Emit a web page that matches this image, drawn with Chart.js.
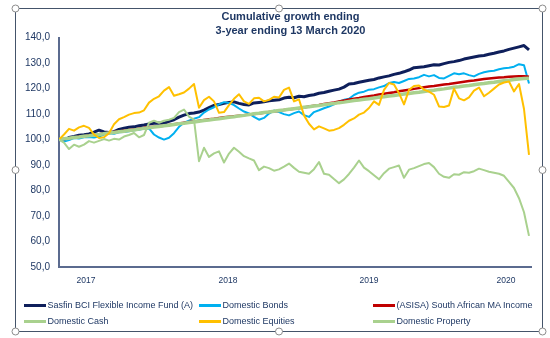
<!DOCTYPE html>
<html><head><meta charset="utf-8">
<script src="https://cdn.jsdelivr.net/npm/chart.js@4.4.1/dist/chart.umd.min.js"></script>
<style>
html,body{margin:0;padding:0;background:#fff;}
#wrap{position:relative;width:550px;height:338px;}
#legend{position:absolute;left:0;top:0;width:550px;height:338px;pointer-events:none;font-family:"Liberation Sans",Arial,sans-serif;font-size:9px;color:#1f3864;}
.li{position:absolute;height:12px;line-height:12px;white-space:nowrap;}
.li .sw{position:absolute;left:0;top:5px;width:22px;height:3px;}
.li .tx{position:absolute;left:24px;top:0;}
</style></head><body>
<div id="wrap"><canvas id="c" width="550" height="338"></canvas><div id="legend"></div></div>
<script>
// ---- data (one point every ~5 px of the x axis) ----
const seriesNames = ['Sasfin BCI Flexible Income Fund (A)', 'Domestic Bonds', '(ASISA) South African MA Income', 'Domestic Cash', 'Domestic Equities', 'Domestic Property'];
const xTickLabels = ['2017', '2018', '2019', '2020'];
const xTickAt = [5.4, 33.8, 62, 89.4];

const fund = [
100.0, 99.8, 100.8, 101.2, 101.7, 101.9, 102.2, 102.9, 103.7, 103.0,
102.8, 103.1, 104.0, 104.5, 104.8, 105.0, 105.4, 105.7, 106.1, 106.4,
106.5, 106.4, 107.2, 107.8, 108.8, 109.6, 110.2, 110.4, 110.8, 111.6,
112.5, 113.4, 113.8, 114.2, 114.6, 114.8, 114.2, 113.8, 113.6, 114.4,
114.6, 114.8, 115.2, 115.4, 115.6, 116.3, 116.6, 116.4, 117.0, 116.8,
117.3, 117.6, 118.2, 118.5, 119.0, 119.4, 119.8, 120.6, 121.8, 122.0,
122.5, 122.9, 123.3, 123.6, 124.2, 124.6, 125.0, 125.6, 126.0, 126.6,
127.3, 128.2, 128.4, 128.6, 129.0, 129.4, 129.3, 129.8, 130.3, 130.6,
131.0, 131.6, 132.0, 132.4, 132.8, 133.0, 133.5, 133.9, 134.4, 134.8,
135.4, 135.9, 136.4, 136.9, 135.2];

const bonds = [
100.5, 99.2, 99.8, 100.6, 100.4, 100.9, 101.0, 100.8, 101.2, 102.0,
102.5, 102.3, 102.9, 103.0, 103.3, 103.7, 103.9, 104.3, 104.4, 102.0,
100.8, 100.0, 100.7, 102.5, 105.0, 106.6, 107.4, 108.2, 108.8, 110.6,
111.8, 112.7, 113.8, 114.7, 114.4, 113.5, 112.2, 111.0, 110.3, 108.9,
107.8, 108.5, 110.2, 111.4, 110.8, 110.0, 109.5, 110.4, 111.0, 109.6,
108.9, 110.8, 111.5, 112.3, 113.0, 113.8, 115.0, 115.6, 116.0, 117.5,
118.4, 118.8, 119.6, 119.8, 120.5, 121.0, 122.2, 122.6, 122.2, 123.0,
123.8, 124.0, 124.5, 125.4, 124.8, 125.3, 124.2, 124.0, 125.0, 126.0,
125.6, 126.0, 125.3, 124.8, 125.8, 126.4, 126.8, 127.0, 127.6, 128.0,
128.2, 128.6, 129.6, 129.2, 122.0];

const asisa = [
100.0, 100.3, 100.5, 100.8, 101.1, 101.3, 101.6, 101.9, 102.1, 102.4,
102.7, 103.0, 103.2, 103.5, 103.8, 104.0, 104.3, 104.6, 104.8, 105.0,
105.2, 105.4, 105.7, 106.0, 106.3, 106.6, 106.9, 107.1, 107.4, 107.7,
108.0, 108.2, 108.5, 108.8, 109.0, 109.2, 109.4, 109.6, 109.8, 110.0,
110.2, 110.5, 110.8, 111.0, 111.3, 111.6, 111.8, 112.1, 112.3, 112.6,
113.0, 113.3, 113.6, 114.0, 114.3, 114.6, 115.0, 115.3, 115.7, 116.0,
116.3, 116.7, 117.0, 117.3, 117.7, 118.0, 118.3, 118.6, 119.0, 119.3,
119.6, 119.9, 120.2, 120.5, 120.8, 121.0, 121.3, 121.6, 121.8, 122.1,
122.4, 122.7, 123.0, 123.2, 123.5, 123.8, 124.0, 124.2, 124.4, 124.5,
124.7, 124.8, 124.9, 124.9, 124.7];

const cash = [
100.0, 100.3, 100.5, 100.8, 101.0, 101.3, 101.5, 101.8, 102.0, 102.3,
102.6, 102.8, 103.1, 103.3, 103.6, 103.8, 104.1, 104.4, 104.6, 104.9,
105.1, 105.4, 105.6, 105.9, 106.2, 106.4, 106.7, 106.9, 107.2, 107.5,
107.7, 108.0, 108.2, 108.5, 108.8, 109.0, 109.3, 109.5, 109.8, 110.1,
110.3, 110.6, 110.8, 111.1, 111.4, 111.6, 111.9, 112.1, 112.4, 112.7,
112.9, 113.2, 113.4, 113.7, 114.0, 114.2, 114.5, 114.7, 115.0, 115.3,
115.5, 115.8, 116.0, 116.3, 116.6, 116.8, 117.1, 117.3, 117.6, 117.9,
118.1, 118.4, 118.6, 118.9, 119.2, 119.4, 119.7, 119.9, 120.2, 120.5,
120.7, 121.0, 121.2, 121.5, 121.8, 122.0, 122.3, 122.5, 122.8, 123.1,
123.3, 123.6, 123.8, 124.0, 124.1];

const equities = [
100.0, 102.0, 104.2, 103.5, 104.8, 105.4, 104.6, 102.0, 100.6, 100.9,
102.5, 106.0, 108.0, 108.8, 109.8, 110.4, 110.6, 111.5, 114.5, 116.0,
117.0, 119.2, 120.6, 117.2, 117.8, 118.5, 120.0, 121.8, 112.5, 115.5,
116.8, 115.0, 110.5, 110.8, 113.5, 116.0, 117.8, 115.0, 114.0, 116.2,
116.4, 115.0, 115.6, 116.8, 116.5, 119.5, 120.4, 115.0, 115.8, 109.5,
106.2, 104.0, 105.2, 104.4, 103.5, 103.8, 104.5, 105.8, 107.4, 108.3,
109.8, 110.6, 112.4, 115.0, 113.6, 119.5, 122.2, 121.6, 118.2, 113.8,
119.5, 121.0, 121.2, 119.6, 118.8, 117.6, 113.0, 112.8, 113.4, 120.0,
116.2, 115.4, 116.6, 119.2, 120.4, 117.0, 118.4, 120.0, 121.6, 122.4,
122.8, 118.9, 121.8, 112.0, 94.0];

const property = [
100.0, 98.8, 96.3, 98.0, 97.2, 98.0, 99.4, 98.8, 99.5, 100.2,
99.6, 100.3, 100.0, 101.2, 101.8, 102.6, 100.9, 101.8, 106.6, 107.4,
106.6, 107.4, 107.8, 108.5, 110.8, 111.8, 109.0, 107.8, 91.5, 96.8,
93.2, 94.6, 95.4, 91.0, 94.5, 96.8, 95.2, 93.5, 92.6, 91.8,
88.0, 89.4, 88.8, 87.8, 88.3, 89.4, 90.6, 88.9, 87.4, 87.0,
86.6, 88.4, 91.2, 86.6, 86.2, 84.5, 82.9, 84.4, 86.5, 89.0,
91.8, 89.0, 87.6, 86.0, 84.4, 86.8, 88.6, 89.2, 89.8, 85.0,
88.2, 88.8, 89.6, 90.4, 90.8, 89.2, 86.6, 85.4, 85.0, 86.4,
86.2, 87.2, 87.0, 87.6, 88.6, 88.0, 87.4, 87.0, 86.6, 85.8,
83.4, 81.0, 77.0, 71.5, 62.2];

// ---- styling ----
const seriesValues = [fund, bonds, asisa, cash, equities, property];
const seriesColors = ['#0e1f5b', '#00b0f0', '#c00000', '#a9d18e', '#ffc000', '#a9d18e'];
const seriesWidths = [3, 2, 2.5, 3.5, 2, 2];
const seriesOrder = [5, 4, 3, 2, 1, 0];
const textColor = '#1f3864';
const axisColor = '#5b6b8f';
const fontFamily = '"Liberation Sans", Arial, sans-serif';

const framePlugin = {
  id: 'frame',
  afterLayout(chart) {
    // centre the title over the same span as in the reference
    const tb = chart.titleBlock;
    if (tb) { tb.left = 50; tb.right = 531; tb.width = 481; }
  },
  afterDraw(chart) {
    const c = chart.ctx;
    c.save();
    c.strokeStyle = '#44546a';
    c.lineWidth = 1;
    c.strokeRect(15.5, 8.5, 527, 323);
    const pts = [[15.5, 8.5], [279, 8.5], [542.5, 8.5], [15.5, 170], [542.5, 170], [15.5, 331.5], [279, 331.5], [542.5, 331.5]];
    pts.forEach(([x, y]) => {
      c.beginPath(); c.arc(x, y, 3.5, 0, Math.PI * 2);
      c.fillStyle = '#ffffff'; c.fill();
      c.strokeStyle = '#8c8c8c'; c.stroke();
    });
    c.restore();
  }
};

new Chart(document.getElementById('c'), {
  type: 'line',
  data: {
    datasets: seriesNames.map((name, k) => ({
      label: name,
      data: seriesValues[k].map((v, i) => ({ x: i, y: v })),
      borderColor: seriesColors[k],
      backgroundColor: seriesColors[k],
      borderWidth: seriesWidths[k],
      pointRadius: 0,
      tension: 0,
      fill: false,
      order: seriesOrder[k],
      borderJoinStyle: 'round'
    }))
  },
  options: {
    responsive: false,
    animation: false,
    layout: { padding: { left: 18, right: 19, top: 0, bottom: 0 } },
    plugins: {
      legend: { display: false },
      tooltip: { enabled: false },
      title: {
        display: true,
        text: ['Cumulative growth ending', '3-year ending 13 March 2020'],
        color: textColor,
        font: { family: fontFamily, size: 11, weight: 'bold', lineHeight: 1.28 },
        padding: { top: 9.5, bottom: 0 }
      }
    },
    scales: {
      x: {
        type: 'linear', min: 0, max: 94.4,
        grid: { display: false, drawTicks: false },
        border: { display: true, color: axisColor, width: 2 },
        afterBuildTicks: s => { s.ticks = xTickAt.map(v => ({ value: v })); },
        ticks: { autoSkip: false, maxRotation: 0, padding: 8.5, color: textColor,
          font: { family: fontFamily, size: 8.5 },
          callback: (v, i) => xTickLabels[i] },
        afterFit: s => { s.height = 71; }
      },
      y: {
        min: 50, max: 140,
        grid: { display: false, drawTicks: false },
        border: { display: true, color: axisColor, width: 2 },
        ticks: { stepSize: 10, padding: 9, color: textColor,
          font: { family: fontFamily, size: 10 },
          callback: v => v.toFixed(1).replace('.', ',') },
        afterFit: s => { s.width = 41; }
      }
    }
  },
  plugins: [framePlugin]
});

// ---- legend (2 rows x 3 columns) ----
const legendCols = [23.5, 198.5, 372.5];
const legendRows = [305, 321];
const lg = document.getElementById('legend');
seriesNames.forEach((name, k) => {
  const d = document.createElement('div');
  d.className = 'li';
  d.style.left = legendCols[k % 3] + 'px';
  d.style.top = (legendRows[Math.floor(k / 3)] - 6) + 'px';
  const sw = document.createElement('span');
  sw.className = 'sw';
  sw.style.background = seriesColors[k];
  const tx = document.createElement('span');
  tx.className = 'tx';
  tx.textContent = name;
  d.appendChild(sw); d.appendChild(tx);
  lg.appendChild(d);
});
</script></body></html>
